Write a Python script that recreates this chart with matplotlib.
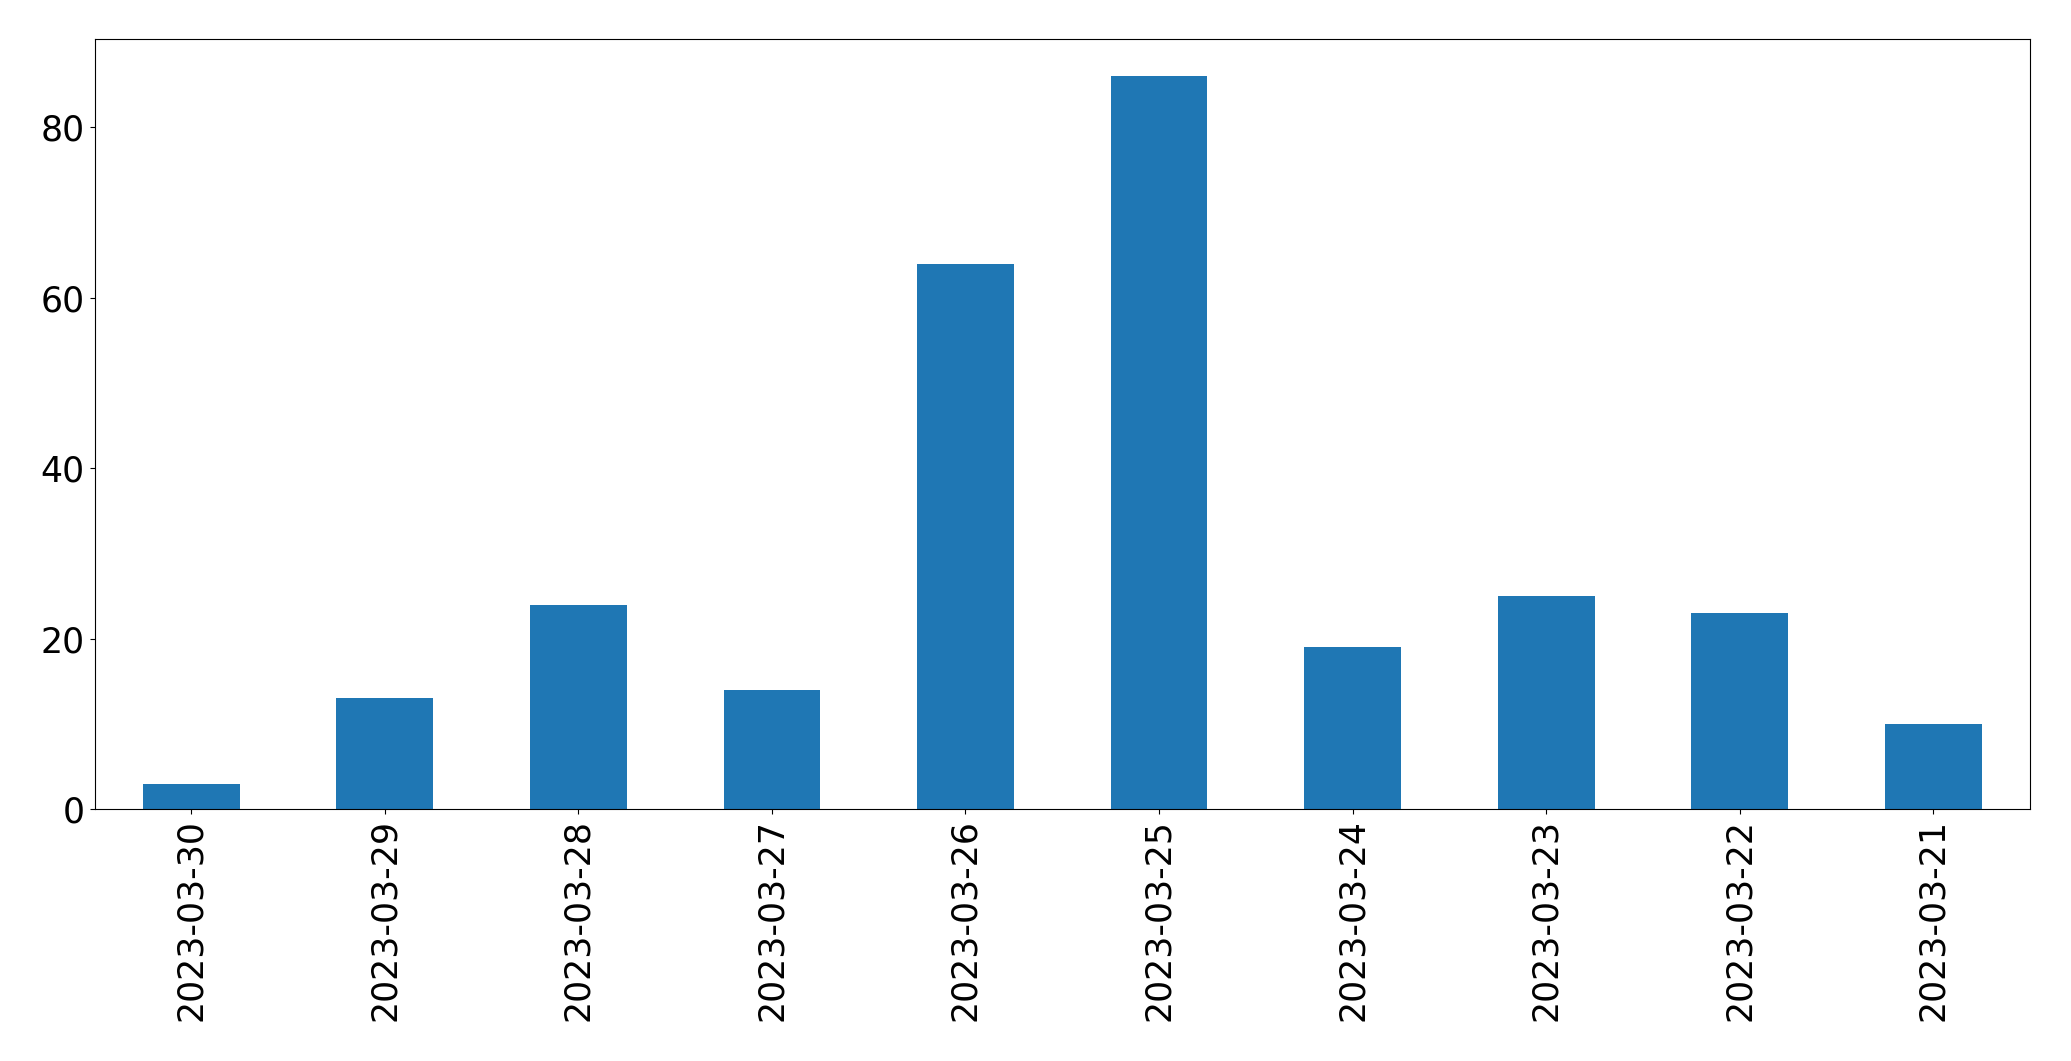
import numpy as np
import matplotlib
matplotlib.use("Agg")
import matplotlib.pyplot as plt

dates = ["2023-03-30", "2023-03-29", "2023-03-28", "2023-03-27", "2023-03-26",
         "2023-03-25", "2023-03-24", "2023-03-23", "2023-03-22", "2023-03-21"]
counts = [3, 13, 24, 14, 64, 86, 19, 25, 23, 10]

fig = plt.figure(figsize=(20.71, 10.61), dpi=100)
ax = fig.add_axes([94.5 / 2071, 1 - 809.3 / 1061, (2030 - 94.5) / 2071, (809.3 - 39.3) / 1061])

x = np.arange(len(dates))
ax.bar(x, counts, width=0.5, color="#1f77b4")
ax.set_xticks(x)
ax.set_xticklabels(dates, rotation=90)
ax.set_xlim(-0.5, len(dates) - 0.5)
ax.set_ylim(0, max(counts) * 1.05)
ax.tick_params(labelsize=25)

fig.savefig("out.png", dpi=100)
